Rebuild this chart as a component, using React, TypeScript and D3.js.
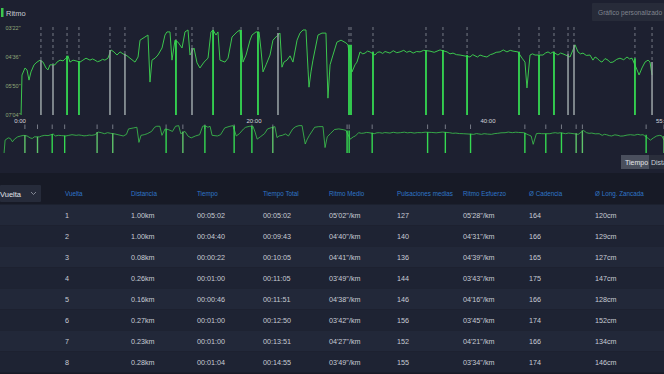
import React from "react";
import * as d3 from "d3";

const W = 664;
const H = 374;

// pace axis (seconds per km), faster at the top
const paceTicks = [202, 276, 350, 424];
const paceTickLabels = ["03'22\"", "04'36\"", "05'50\"", "07'04\""];
const timeTicks = [0, 20, 40, 55];
const timeTickLabels = ["0:00", "20:00", "40:00", "55:00"];

// [minute, pace seconds]
const pacePoints: [number, number][] = [
  [0.09, 424], [0.17, 322], [0.43, 304], [0.6, 309], [0.77, 335], [0.94, 314], [1.2, 296],
  [1.45, 289], [1.71, 284], [1.97, 289], [2.22, 304], [2.39, 309], [2.56, 296], [2.99, 296],
  [3.16, 289], [3.42, 284], [3.68, 286], [3.93, 279], [4.1, 273], [4.27, 289], [4.53, 284],
  [4.79, 286], [5.13, 289], [5.38, 284], [5.64, 279], [5.98, 284], [6.2, 281], [6.41, 284],
  [6.62, 288], [6.84, 286], [7.05, 282], [7.26, 284], [7.52, 279], [7.78, 258], [8.03, 263],
  [8.29, 271], [8.55, 263], [8.8, 268], [9.15, 273], [9.4, 279], [9.83, 289], [10.09, 276],
  [10.26, 233], [10.68, 225], [10.94, 220], [11.11, 340], [11.28, 284], [11.54, 279],
  [11.79, 271], [12.14, 253], [12.39, 220], [12.56, 212], [12.82, 212], [12.99, 284],
  [13.25, 233], [13.5, 238], [13.85, 253], [14.1, 212], [14.36, 207], [14.53, 271],
  [14.87, 253], [15.13, 291], [15.38, 304], [15.73, 289], [16.07, 279], [16.32, 212],
  [16.5, 207], [16.75, 220], [16.92, 212], [17.09, 284], [17.52, 289], [17.78, 279],
  [18.12, 225], [18.55, 212], [18.8, 207], [19.06, 289], [19.32, 271], [19.66, 233],
  [19.83, 220], [20.17, 212], [20.43, 212], [20.6, 258], [20.77, 314], [21.03, 296],
  [21.37, 271], [21.62, 233], [21.97, 222], [22.22, 215], [22.39, 302], [22.56, 289],
  [22.82, 284], [23.08, 273], [23.33, 289], [23.68, 233], [23.93, 215], [24.19, 207],
  [24.44, 207], [24.62, 309], [24.7, 353], [24.87, 314], [25.04, 284], [25.47, 220],
  [25.81, 215], [26.15, 215], [26.32, 381], [26.5, 296], [26.75, 271], [27.09, 238],
  [27.44, 233], [27.86, 240], [28.03, 245], [28.38, 314], [28.63, 296], [28.8, 289],
  [29.06, 263], [29.3, 268], [29.49, 266], [29.7, 261], [29.91, 263], [30.34, 271],
  [30.55, 264], [30.77, 263], [31.0, 267], [31.2, 262], [31.62, 266], [31.9, 260],
  [32.2, 265], [32.48, 263], [32.8, 259], [33.05, 264], [33.33, 261], [33.6, 266],
  [33.9, 262], [34.19, 263], [34.5, 259], [35.04, 261], [35.4, 264], [35.9, 258],
  [36.5, 263], [36.75, 268], [37.01, 266], [37.3, 270], [37.61, 271], [38.46, 276],
  [38.7, 270], [38.89, 273], [39.1, 276], [39.32, 271], [39.6, 274], [39.91, 276],
  [40.2, 270], [40.43, 268], [40.7, 264], [41.03, 263], [41.3, 258], [41.62, 263],
  [41.9, 259], [42.14, 261], [42.56, 263], [42.91, 279], [43.16, 289], [43.33, 355],
  [43.59, 271], [43.8, 268], [44.02, 271], [44.7, 271], [44.9, 266], [45.13, 263],
  [45.35, 267], [45.56, 263], [45.98, 271], [46.2, 266], [46.41, 268], [47.01, 276],
  [47.44, 245], [47.69, 263], [47.9, 268], [48.12, 266], [48.4, 272], [48.72, 271],
  [48.97, 284], [49.15, 276], [49.32, 279], [49.55, 286], [49.74, 289], [50.0, 280],
  [50.26, 284], [50.45, 290], [50.68, 289], [51.0, 282], [51.28, 279], [51.6, 283],
  [51.88, 276], [52.1, 281], [52.31, 279], [52.74, 309], [52.91, 322], [53.16, 304],
  [53.42, 289], [53.68, 284], [53.85, 289], [54.02, 322],
];

// lap transitions: [minute, kind]
const lapMarks: [number, string][] = [
  [1.79, "grey"], [2.82, "grey"], [4.02, "green"], [5.04, "green"], [7.69, "grey"],
  [8.97, "grey"], [13.33, "green"], [14.7, "grey"], [16.5, "green"], [18.89, "green"],
  [20.34, "green"], [22.05, "grey"], [28.12, "green"], [28.29, "green"], [30.17, "green"],
  [34.7, "green"], [36.15, "green"], [38.21, "green"], [42.65, "green"], [44.36, "green"],
  [45.64, "green"], [46.84, "grey"], [47.35, "grey"], [52.56, "green"], [54.02, "grey"],
];

// lap table
const columns = [
  "Vuelta", "Distancia", "Tiempo", "Tiempo Total", "Ritmo Medio",
  "Pulsaciones medias", "Ritmo Esfuerzo", "Ø Cadencia", "Ø Long. Zancada",
];
const laps = ["1", "2", "3", "4", "5", "6", "7", "8"];
const distances = ["1.00km", "1.00km", "0.08km", "0.26km", "0.16km", "0.27km", "0.23km", "0.28km"];
const lapTimes = ["00:05:02", "00:04:40", "00:00:22", "00:01:00", "00:00:46", "00:01:00", "00:01:00", "00:01:04"];
const totalTimes = ["00:05:02", "00:09:43", "00:10:05", "00:11:05", "00:11:51", "00:12:50", "00:13:51", "00:14:55"];
const avgPace = ["05'02\"/km", "04'40\"/km", "04'41\"/km", "03'49\"/km", "04'38\"/km", "03'42\"/km", "04'27\"/km", "03'49\"/km"];
const avgHr = ["127", "140", "136", "144", "146", "156", "152", "155"];
const effortPace = ["05'28\"/km", "04'31\"/km", "04'39\"/km", "03'43\"/km", "04'16\"/km", "03'45\"/km", "04'21\"/km", "03'34\"/km"];
const cadence = ["164", "166", "165", "175", "166", "174", "166", "174"];
const stride = ["120cm", "129cm", "127cm", "147cm", "128cm", "152cm", "134cm", "146cm"];

const GREEN = "#3cc64e";
const SPIKE_GREEN = "#35d951";
const SPIKE_GREY = "#9aa3a6";

export default function App() {
  const x = d3.scaleLinear().domain([0, 55]).range([20, 663.5]);
  const y = d3.scaleLinear().domain([202, 424]).range([28, 115]);
  const mx = d3.scaleLinear().domain([0, 54.02]).range([3, 664]);
  const my = d3.scaleLinear().domain([202, 424]).range([125, 153]);

  const line = d3.line<[number, number]>().x((d) => x(d[0])).y((d) => y(d[1]));
  const miniLine = d3.line<[number, number]>().x((d) => mx(d[0])).y((d) => my(d[1]));

  const bis = d3.bisector((d: [number, number]) => d[0]).left;
  const topAt = (t: number) => {
    const i = bis(pacePoints, t);
    const a = pacePoints[Math.max(0, i - 1)];
    const b = pacePoints[Math.min(pacePoints.length - 1, i)];
    return Math.min(a[1], b[1]);
  };

  const colX = [65, 131, 197, 263, 329, 397, 463, 529, 595];
  const rows = laps.map((l, i) => [
    l, distances[i], lapTimes[i], totalTimes[i], avgPace[i], avgHr[i], effortPace[i], cadence[i], stride[i],
  ]);
  const rowTop = 204.5;
  const rowH = 21;

  return (
    <svg
      width={W}
      height={H}
      style={{ position: "absolute", left: 0, top: 0, fontFamily: "'Liberation Sans', Arial, sans-serif" }}
    >
      <rect x={0} y={0} width={W} height={H} fill="#171a26" />
      <rect x={0} y={0} width={W} height={173} fill="#1d2030" />

      {/* legend */}
      <rect x={1} y={8} width={2.5} height={9} fill={GREEN} />
      <text x={6} y={15.5} fontSize={7.5} fill="#c9ccd4">Ritmo</text>

      {/* custom chart button */}
      <rect x={592} y={3} width={72} height={18} fill="#272b39" rx={1} />
      <text x={598} y={15} fontSize={6.6} fill="#80858f">Gráfico personalizado</text>

      {/* y axis labels */}
      {paceTicks.map((p, i) => (
        <text key={p} x={13} y={y(p) + 2} fontSize={5.5} fill="#8fa878" textAnchor="middle">
          {paceTickLabels[i]}
        </text>
      ))}

      {/* lap dashed markers, visible above the trace */}
      {lapMarks.map(([t], i) => (
        <line key={"d" + i} x1={x(t)} x2={x(t)} y1={27} y2={y(topAt(t))}
          stroke="#8b909a" strokeWidth={0.8} strokeDasharray="3,3" />
      ))}

      <path d={line(pacePoints) ?? ""} fill="none" stroke={GREEN} strokeWidth={1} strokeLinejoin="round" />

      {lapMarks.map(([t, kind], i) => (
        <line key={"s" + i} x1={x(t)} x2={x(t)} y1={y(topAt(t))} y2={y(424)}
          stroke={kind === "green" ? SPIKE_GREEN : SPIKE_GREY} strokeWidth={1.8}
          strokeOpacity={kind === "green" ? 1 : 0.85} />
      ))}

      {/* x axis labels */}
      {timeTicks.map((t, i) => (
        <text key={t} x={x(t)} y={123} fontSize={6} fill="#d4d7de" textAnchor="middle">
          {timeTickLabels[i]}
        </text>
      ))}

      {/* navigator */}
      {lapMarks.map(([t], i) => (
        <line key={"mt" + i} x1={mx(t)} x2={mx(t)} y1={124.5} y2={129}
          stroke="#9ca1aa" strokeWidth={0.7} />
      ))}
      <path d={miniLine(pacePoints) ?? ""} fill="none" stroke={GREEN} strokeWidth={0.8} />
      {lapMarks.map(([t, kind], i) => (
        <line key={"ms" + i} x1={mx(t)} x2={mx(t)} y1={my(topAt(t))} y2={my(424)}
          stroke={kind === "green" ? SPIKE_GREEN : "#5fc46a"} strokeWidth={1.4} />
      ))}

      {/* axis switch */}
      <rect x={621} y={155} width={28} height={14} fill="#4a4f5d" />
      <text x={625} y={165} fontSize={7} fill="#e4e6ea">Tiempo</text>
      <rect x={649} y={155} width={15} height={14} fill="#2a2e3b" />
      <text x={651} y={165} fontSize={7} fill="#c9ccd4">Distancia</text>

      {/* table */}
      <rect x={0} y={185} width={41} height={17} fill="#262b3a" rx={1} />
      <text x={0} y={196.5} fontSize={7.5} fill="#e2e4e9">Vuelta</text>
      <path d="M31,192 L33.5,194.5 L36,192" fill="none" stroke="#9aa0aa" strokeWidth={0.8} />

      {columns.map((c, i) => (
        <text key={c} x={colX[i]} y={195.5} fontSize={6.3} fill="#2f76c8">{c}</text>
      ))}

      {rows.map((r, i) => (
        <g key={i}>
          <rect x={0} y={rowTop + i * rowH} width={W} height={rowH} fill={i % 2 === 0 ? "#222839" : "#1e2333"} />
          {r.map((v, j) => (
            <text key={j} x={colX[j]} y={rowTop + i * rowH + 13.3} fontSize={7.2} fill="#c8ccd5">{v}</text>
          ))}
        </g>
      ))}
    </svg>
  );
}
